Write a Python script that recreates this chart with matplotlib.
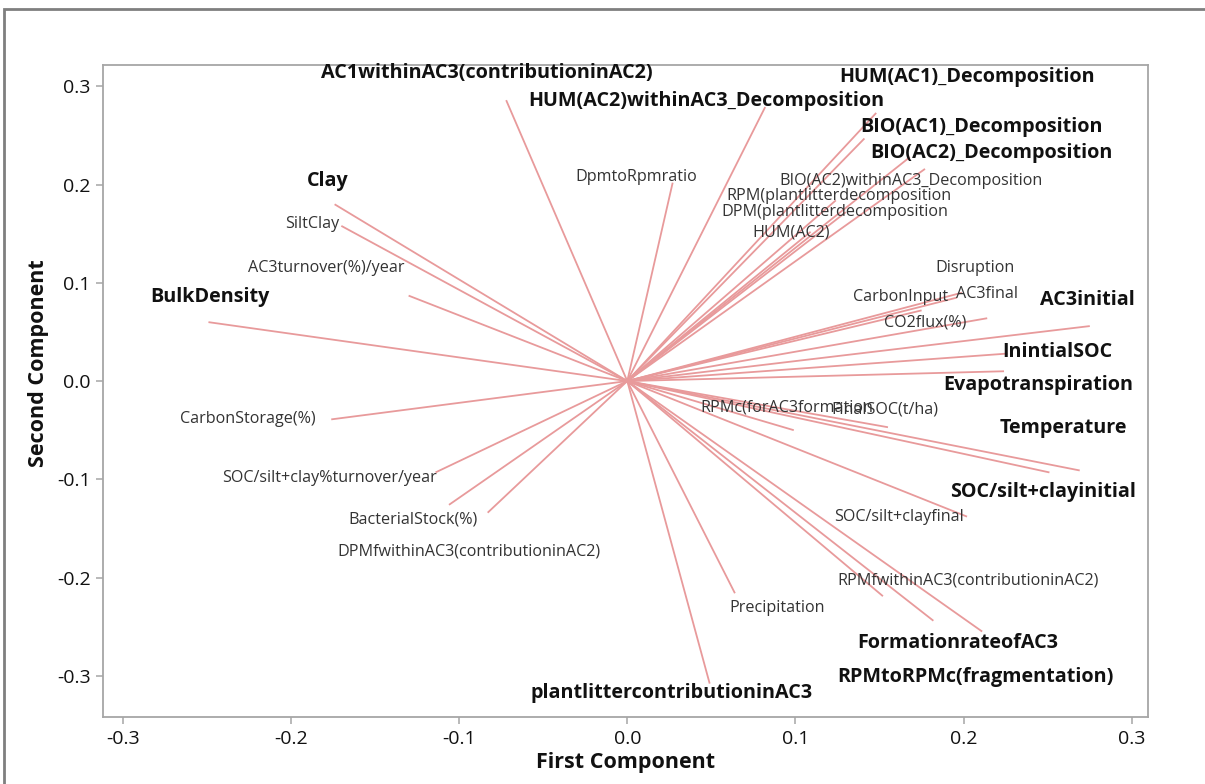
import matplotlib
matplotlib.use("Agg")
import matplotlib.pyplot as plt
from matplotlib.patches import Rectangle

# Loadings of each variable on the first two principal components
variables = [
    "AC1withinAC3(contributioninAC2)", "HUM(AC2)withinAC3_Decomposition",
    "HUM(AC1)_Decomposition", "BIO(AC1)_Decomposition", "BIO(AC2)_Decomposition",
    "BIO(AC2)withinAC3_Decomposition", "RPM(plantlitterdecomposition",
    "DPM(plantlitterdecomposition", "HUM(AC2)", "DpmtoRpmratio",
    "Clay", "SiltClay", "AC3turnover(%)/year", "BulkDensity", "CarbonStorage(%)",
    "SOC/silt+clay%turnover/year", "BacterialStock(%)",
    "DPMfwithinAC3(contributioninAC2)",
    "Disruption", "CarbonInput", "AC3final", "AC3initial", "CO2flux(%)",
    "InintialSOC", "Evapotranspiration", "RPMc(forAC3formation", "FinalSOC(t/ha)",
    "Temperature", "SOC/silt+clayinitial", "SOC/silt+clayfinal",
    "RPMfwithinAC3(contributioninAC2)", "Precipitation", "FormationrateofAC3",
    "RPMtoRPMc(fragmentation)", "plantlittercontributioninAC3",
]
first_component = [
    -0.072, 0.082, 0.148, 0.141, 0.168, 0.177, 0.124, 0.130, 0.109, 0.027,
    -0.174, -0.170, -0.130, -0.249, -0.176, -0.114, -0.106, -0.083,
    0.199, 0.175, 0.196, 0.275, 0.214, 0.226, 0.224, 0.099, 0.155,
    0.269, 0.251, 0.202,
    0.152, 0.064, 0.182, 0.211, 0.049,
]
second_component = [
    0.286, 0.279, 0.273, 0.247, 0.228, 0.216, 0.184, 0.172, 0.152, 0.202,
    0.180, 0.158, 0.087, 0.060, -0.039, -0.093, -0.126, -0.134,
    0.090, 0.072, 0.085, 0.056, 0.064, 0.028, 0.010, -0.050, -0.047,
    -0.091, -0.093, -0.138,
    -0.219, -0.216, -0.244, -0.255, -0.308,
]
x_ticks = [-0.3, -0.2, -0.1, 0.0, 0.1, 0.2, 0.3]
y_ticks = [-0.3, -0.2, -0.1, 0.0, 0.1, 0.2, 0.3]

# Variables whose labels are set in bold
emphasised = {
    "AC1withinAC3(contributioninAC2)", "HUM(AC2)withinAC3_Decomposition",
    "HUM(AC1)_Decomposition", "BIO(AC1)_Decomposition", "BIO(AC2)_Decomposition",
    "Clay", "BulkDensity", "AC3initial", "InintialSOC", "Evapotranspiration",
    "Temperature", "SOC/silt+clayinitial", "FormationrateofAC3",
    "RPMtoRPMc(fragmentation)", "plantlittercontributioninAC3",
}

# Label anchors (left edge, vertical centre) in data units
label_pos = {
    "AC1withinAC3(contributioninAC2)": (-0.1822, 0.3136),
    "HUM(AC2)withinAC3_Decomposition": (-0.0590, 0.2851),
    "HUM(AC1)_Decomposition": (0.1263, 0.3096),
    "BIO(AC1)_Decomposition": (0.1383, 0.2587),
    "BIO(AC2)_Decomposition": (0.1443, 0.2322),
    "BIO(AC2)withinAC3_Decomposition": (0.0907, 0.2037),
    "RPM(plantlitterdecomposition": (0.0592, 0.1884),
    "DPM(plantlitterdecomposition": (0.0557, 0.1721),
    "HUM(AC2)": (0.0741, 0.1517),
    "DpmtoRpmratio": (-0.0311, 0.2077),
    "Clay": (-0.1904, 0.2037),
    "SiltClay": (-0.2035, 0.1599),
    "AC3turnover(%)/year": (-0.2255, 0.1151),
    "BulkDensity": (-0.2838, 0.0855),
    "CarbonStorage(%)": (-0.2659, -0.0387),
    "SOC/silt+clay%turnover/year": (-0.2409, -0.0988),
    "BacterialStock(%)": (-0.1660, -0.1405),
    "DPMfwithinAC3(contributioninAC2)": (-0.1726, -0.1731),
    "Disruption": (0.1829, 0.1151),
    "CarbonInput": (0.1341, 0.0855),
    "AC3final": (0.1954, 0.0886),
    "AC3initial": (0.2454, 0.0825),
    "CO2flux(%)": (0.1526, 0.0601),
    "InintialSOC": (0.2228, 0.0295),
    "Evapotranspiration": (0.1876, -0.0041),
    "RPMc(forAC3formation": (0.0432, -0.0265),
    "FinalSOC(t/ha)": (0.1216, -0.0285),
    "Temperature": (0.2216, -0.0479),
    "SOC/silt+clayinitial": (0.1918, -0.1130),
    "SOC/silt+clayfinal": (0.1229, -0.1385),
    "RPMfwithinAC3(contributioninAC2)": (0.1247, -0.2026),
    "Precipitation": (0.0610, -0.2312),
    "FormationrateofAC3": (0.1365, -0.2668),
    "RPMtoRPMc(fragmentation)": (0.1247, -0.3014),
    "plantlittercontributioninAC3": (-0.0573, -0.3177),
}

plt.rcParams["font.family"] = ["Open Sans", "DejaVu Sans"]

fig = plt.figure(figsize=(12.05, 7.84), dpi=100)
fig.patch.set_facecolor("white")
ax = fig.add_axes([103 / 1205, 1 - 717 / 784, (1148 - 103) / 1205, (717 - 65) / 784])

# outer panel frame (top and left edges visible)
fig.add_artist(Rectangle((4 / 1205, -0.5), 2.0, 1.5 - 9 / 784,
                         transform=fig.transFigure, fill=False,
                         edgecolor="#7f7f7f", linewidth=2.0))

line_color = "#E89A9B"
for name, x, y in zip(variables, first_component, second_component):
    ax.plot([0, x], [0, y], color=line_color, linewidth=1.3,
            solid_capstyle="butt", zorder=2)

for name in variables:
    lx, ly = label_pos[name]
    bold = name in emphasised
    ax.text(lx, ly, name, ha="left", va="center",
            fontsize=14.2 if bold else 11.6,
            fontweight="bold" if bold else "normal",
            color="#111111" if bold else "#333333", zorder=3)

ax.set_xlim(-0.3117, 0.3096)
ax.set_ylim(-0.342, 0.3218)
ax.set_xticks(x_ticks)
ax.set_yticks(y_ticks)
ax.set_xticklabels([f"{t:.1f}" for t in x_ticks])
ax.set_yticklabels([f"{t:.1f}" for t in y_ticks])

for side in ax.spines.values():
    side.set_color("#a6a6a6")
    side.set_linewidth(1.3)
ax.tick_params(direction="out", length=5, width=1.1, color="#a6a6a6",
               labelsize=14, labelcolor="#111111", pad=4)

ax.set_xlabel("First Component", fontsize=15.5, fontweight="bold", color="#111111")
ax.set_ylabel("Second Component", fontsize=15.5, fontweight="bold", color="#111111")
ax.xaxis.set_label_coords(0.5, -0.054)
ax.yaxis.set_label_coords(-0.052, 0.543)

fig.savefig("out.png", dpi=100, facecolor="white")
